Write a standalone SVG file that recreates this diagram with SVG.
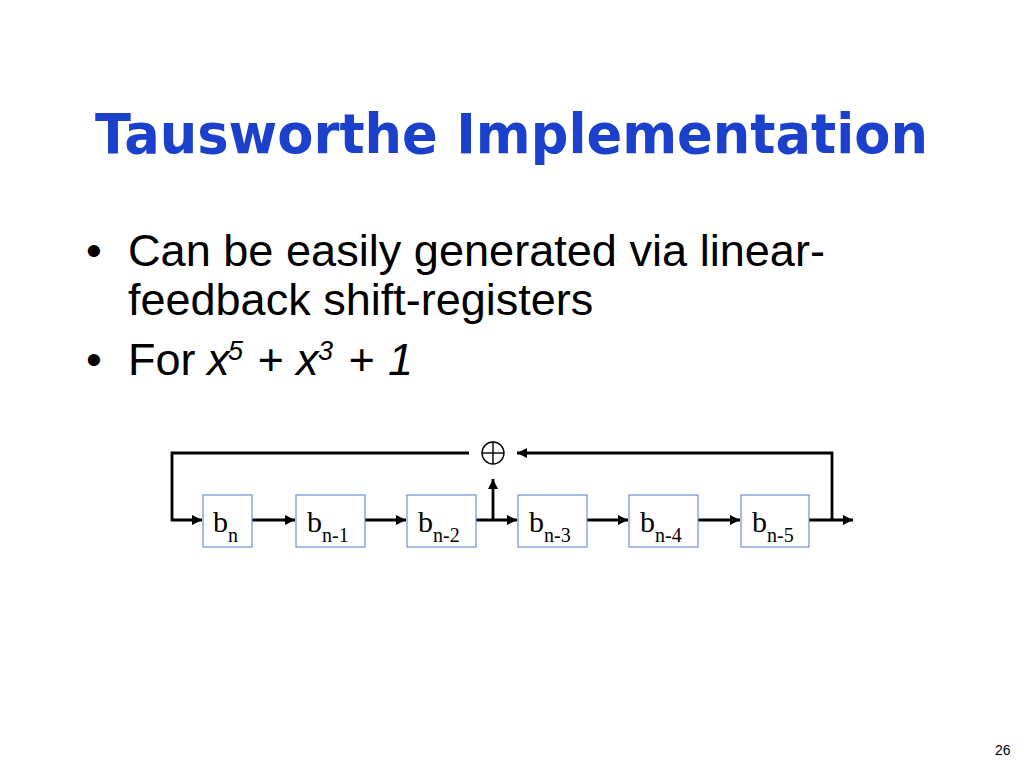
<svg xmlns="http://www.w3.org/2000/svg" width="1024" height="768" viewBox="0 0 1024 768">
<style>
.title{font-family:"DejaVu Sans","Liberation Sans",sans-serif;font-weight:bold;font-size:56px;fill:#1A40CC}
.body{font-family:"Liberation Sans",Arial,sans-serif;font-size:45px;fill:#000}
.it{font-style:italic}
.sup{font-family:"Liberation Sans",Arial,sans-serif;font-size:27px;font-style:italic;fill:#000}
.box{fill:#fff;stroke:#6F8FE0;stroke-width:1.2}
.lbl{font-family:"Liberation Serif","Times New Roman",serif;font-size:30px;fill:#000}
.sub{font-size:20px}
.wire{fill:none;stroke:#000;stroke-width:2.8}
.pg{font-family:"Liberation Sans",Arial,sans-serif;font-size:14px;fill:#000}
</style>
<defs>
<marker id="arr" markerUnits="userSpaceOnUse" markerWidth="12" markerHeight="10" refX="10" refY="5" orient="auto">
<path d="M0,0 L10,5 L0,10 Z" fill="#000"/>
</marker>
</defs>
<rect width="1024" height="768" fill="#fff"/>
<text class="title" x="95" y="153" textLength="833" lengthAdjust="spacingAndGlyphs">Tausworthe Implementation</text>
<g id="bullets">
<text class="body" x="86" y="266">•</text>
<text class="body" x="128" y="266" textLength="697" lengthAdjust="spacingAndGlyphs">Can be easily generated via linear-</text>
<text class="body" x="128" y="315">feedback shift-registers</text>
<text class="body" x="86" y="375">•</text>
<text class="body" x="128" y="375">For</text>
<text class="body it" x="207" y="375">x</text>
<text class="sup" x="228" y="360">5</text>
<text class="body it" x="257" y="375">+</text>
<text class="body it" x="296" y="375">x</text>
<text class="sup" x="318" y="360">3</text>
<text class="body it" x="348" y="375">+</text>
<text class="body it" x="388" y="375">1</text>
</g>
<g id="connectors">
<polyline class="wire" points="469,453 172,453 172,520 202,520" marker-end="url(#arr)"/>
<line class="wire" x1="252" y1="520" x2="295" y2="520" marker-end="url(#arr)"/>
<line class="wire" x1="365" y1="520" x2="406" y2="520" marker-end="url(#arr)"/>
<line class="wire" x1="476" y1="520" x2="517" y2="520" marker-end="url(#arr)"/>
<line class="wire" x1="493" y1="521" x2="493" y2="479" marker-end="url(#arr)"/>
<line class="wire" x1="587" y1="520" x2="628" y2="520" marker-end="url(#arr)"/>
<line class="wire" x1="698" y1="520" x2="740" y2="520" marker-end="url(#arr)"/>
<line class="wire" x1="809" y1="520" x2="853" y2="520" marker-end="url(#arr)"/>
<polyline class="wire" points="832,520 832,453 517,453" marker-end="url(#arr)"/>
</g>
<g id="xor">
<circle cx="493" cy="453" r="11" fill="none" stroke="#000" stroke-width="1.4"/>
<line x1="482" y1="453" x2="504" y2="453" stroke="#000" stroke-width="1.4"/>
<line x1="493" y1="442" x2="493" y2="464" stroke="#000" stroke-width="1.4"/>
</g>
<g id="b0"><rect class="box" x="203" y="495" width="49" height="52"/><text class="lbl" x="213" y="532">b<tspan class="sub" dy="10">n</tspan></text></g>
<g id="b1"><rect class="box" x="296" y="495" width="69" height="52"/><text class="lbl" x="307" y="532">b<tspan class="sub" dy="10">n-1</tspan></text></g>
<g id="b2"><rect class="box" x="407" y="495" width="69" height="52"/><text class="lbl" x="418" y="532">b<tspan class="sub" dy="10">n-2</tspan></text></g>
<g id="b3"><rect class="box" x="518" y="495" width="69" height="52"/><text class="lbl" x="529" y="532">b<tspan class="sub" dy="10">n-3</tspan></text></g>
<g id="b4"><rect class="box" x="629" y="495" width="69" height="52"/><text class="lbl" x="640" y="532">b<tspan class="sub" dy="10">n-4</tspan></text></g>
<g id="b5"><rect class="box" x="741" y="495" width="68" height="52"/><text class="lbl" x="752" y="532">b<tspan class="sub" dy="10">n-5</tspan></text></g>
<text class="pg" x="995" y="755">26</text>
</svg>
